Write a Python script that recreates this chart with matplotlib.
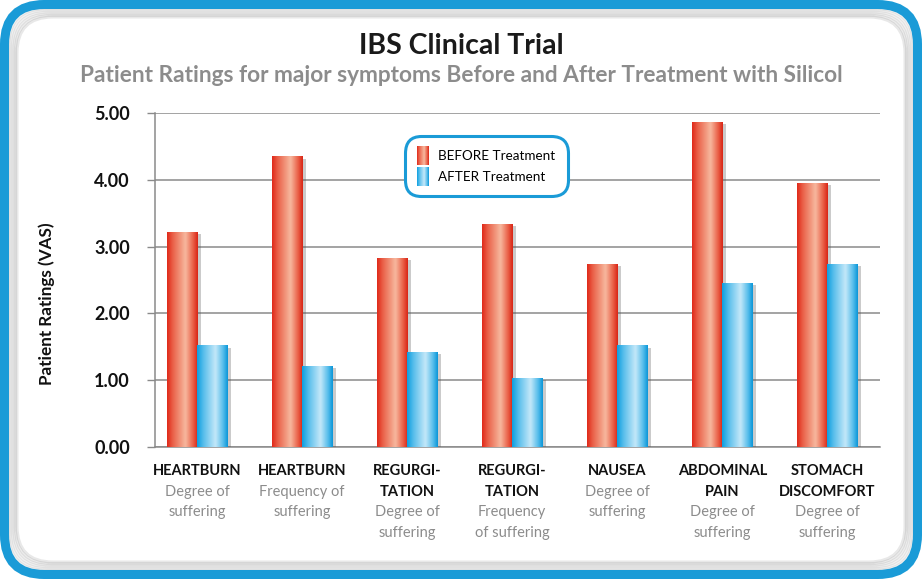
import numpy as np
import matplotlib
matplotlib.use("Agg")
import matplotlib.pyplot as plt
from matplotlib.patches import FancyBboxPatch, Rectangle
from matplotlib.colors import LinearSegmentedColormap
from matplotlib.legend_handler import HandlerBase
import matplotlib.patheffects as pe

plt.rcParams['font.family'] = ['Lato', 'DejaVu Sans']

# ---- data ----
cat_names = [["HEARTBURN"], ["HEARTBURN"], ["REGURGI-", "TATION"],
             ["REGURGI-", "TATION"], ["NAUSEA"], ["ABDOMINAL", "PAIN"],
             ["STOMACH", "DISCOMFORT"]]
cat_subs = [["Degree of", "suffering"], ["Frequency of", "suffering"],
            ["Degree of", "suffering"], ["Frequency", "of suffering"],
            ["Degree of", "suffering"], ["Degree of", "suffering"],
            ["Degree of", "suffering"]]
before = [3.22, 4.35, 2.83, 3.34, 2.74, 4.87, 3.95]
after = [1.52, 1.21, 1.42, 1.03, 1.52, 2.45, 2.74]
yticks = [0, 1, 2, 3, 4, 5]
series_labels = ["BEFORE Treatment", "AFTER Treatment"]

# gradient colour stops (edge -> light -> edge)
red_cmap = LinearSegmentedColormap.from_list(
    "redbar", [(0, "#e02a1a"), (0.18, "#ea6048"), (0.6, "#f7b89e"), (0.85, "#ea6048"), (1, "#d92616")])
blue_cmap = LinearSegmentedColormap.from_list(
    "bluebar", [(0, "#0e9fe0"), (0.2, "#56bdeb"), (0.6, "#c4e8f9"), (0.85, "#56bdeb"), (1, "#0b96d8")])
frame_blue = "#1a9bd7"

W, H = 922, 579
fig = plt.figure(figsize=(W / 100, H / 100), dpi=100)
fig.patch.set_facecolor("white")

# ---- rounded frame drawn in pixel-like coords ----
bg = fig.add_axes([0, 0, 1, 1], zorder=-5)
bg.set_xlim(0, W)
bg.set_ylim(H, 0)
bg.axis("off")
for k, a in enumerate([0.06, 0.06, 0.06, 0.07, 0.08, 0.09]):
    inset = 9 + k * 1.6
    bg.add_patch(FancyBboxPatch((inset, inset), W - 2 * inset, H - 2 * inset,
                                boxstyle="round,pad=0,rounding_size=36",
                                fc="none", ec="#000000", lw=2.2, alpha=a))
bg.add_patch(FancyBboxPatch((4.5, 4.5), W - 9, H - 9,
                            boxstyle="round,pad=0,rounding_size=40",
                            fc="none", ec=frame_blue, lw=6.5))

# ---- titles ----
fig.text(0.5, 1 - 46 / H, "IBS Clinical Trial", ha="center", va="center",
         fontsize=20.5, fontweight="bold", color="#1a1a1a")
fig.text(0.5, 1 - 76 / H,
         "Patient Ratings for major symptoms Before and After Treatment with Silicol",
         ha="center", va="center", fontsize=16.3, fontweight="bold", color="#8c8c8c")
fig.text(47 / W, 1 - 304 / H, "Patient Ratings (VAS)", rotation=90,
         ha="center", va="center", fontsize=12.3, fontweight="bold", color="#111111")

# ---- main axes ----
ax = fig.add_axes([155 / W, 1 - 447 / H, (880 - 155) / W, (447 - 113) / H])
x = np.arange(len(before))
bw = 0.29
shadow = [pe.SimplePatchShadow(offset=(2.5, -1.5), shadow_rgbFace="#555555", alpha=0.3),
          pe.Normal()]
bars_b = ax.bar(x - bw / 2, before, bw, color="#ee7a60", zorder=3, path_effects=shadow)
bars_a = ax.bar(x + bw / 2, after, bw, color="#7dcdf0", zorder=3, path_effects=shadow)

grad = np.linspace(0, 1, 64).reshape(1, -1)
for bars, cmap in ((bars_b, red_cmap), (bars_a, blue_cmap)):
    for b in bars:
        x0, y0 = b.get_x(), b.get_y()
        im = ax.imshow(grad, cmap=cmap, aspect="auto", zorder=3.5,
                       extent=(x0, x0 + b.get_width(), y0, y0 + b.get_height()),
                       interpolation="bicubic")
        im.set_clip_path(b)

ax.set_xlim(-0.4, len(before) - 1 + 0.5)
ax.set_ylim(0, 5)
ax.set_yticks(yticks)
ax.set_yticklabels(["%.2f" % v for v in yticks], fontsize=13, fontweight="bold",
                   color="#111111")
ax.set_xticks([])
ax.set_axisbelow(True)
ax.yaxis.grid(True, color="#8a8a8a", lw=1.1)
ax.tick_params(axis="y", length=6, width=1, color="#8a8a8a", pad=12)
for s in ("top", "right"):
    ax.spines[s].set_visible(False)
for s in ("left", "bottom"):
    ax.spines[s].set_color("#8a8a8a")
    ax.spines[s].set_linewidth(1.1)
ax.set_facecolor("none")

# ---- two-tone category labels ----
line_step = 14.7
for i in range(len(before)):
    lines = [(t, "bold", "#111111") for t in cat_names[i]] + \
            [(t, "normal", "#8c8c8c") for t in cat_subs[i]]
    for j, (txt, wt, col) in enumerate(lines):
        ax.annotate(txt, xy=(x[i], 0), xycoords=("data", "axes fraction"),
                    xytext=(0, -17.5 - j * line_step), textcoords="offset points",
                    ha="center", va="center", fontsize=10.5, fontweight=wt, color=col)


# ---- legend with gradient swatches ----
class GradientHandler(HandlerBase):
    def __init__(self, cmap):
        super().__init__()
        self.cmap = cmap

    def create_artists(self, legend, orig_handle, xdescent, ydescent,
                       width, height, fontsize, trans):
        n = 12
        sw = width / n
        arts = []
        for k in range(n):
            arts.append(Rectangle((-xdescent + k * sw, -ydescent - 2), sw * 1.05, height + 4,
                                  fc=self.cmap((k + 0.5) / n), ec="none", transform=trans))
        return arts


h_b = Rectangle((0, 0), 1, 1)
h_a = Rectangle((0, 0), 1, 1)
leg = ax.legend([h_b, h_a], series_labels, loc="upper left",
                bbox_to_anchor=(0.335, 0.95), handler_map={h_b: GradientHandler(red_cmap),
                                                           h_a: GradientHandler(blue_cmap)},
                handlelength=0.9, handleheight=1.2, handletextpad=0.7, labelspacing=0.55,
                fontsize=9.7, borderpad=0.9, fancybox=True, framealpha=1)
fr = leg.get_frame()
fr.set_boxstyle("round,pad=0,rounding_size=1.2")
fr.set_edgecolor(frame_blue)
fr.set_linewidth(2.2)
fr.set_facecolor("white")
leg.set_zorder(10)

fig.savefig("out.png", dpi=100)
